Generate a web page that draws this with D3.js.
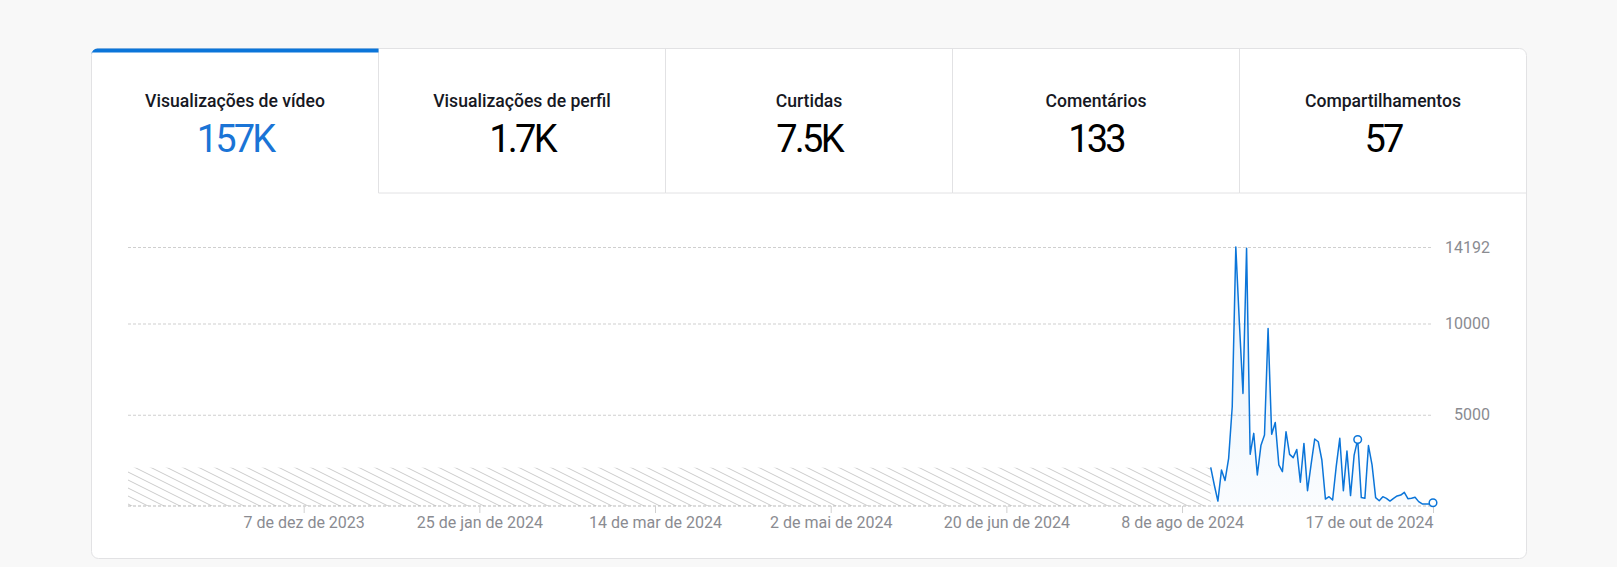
<!DOCTYPE html>
<html>
<head>
<meta charset="utf-8">
<style>
    body {
        margin: 0;
        background: #f8f8f8;
        font-family: Roboto, 'Noto Sans', Arial, sans-serif;
    }

    svg {
        display: block;
    }

    .tab-title {
        font-size: 17.6px;
        font-weight: 500;
        fill: #161823;
    }

    .tab-value {
        font-size: 38px;
        font-weight: 400;
        letter-spacing: -2.8px;
        fill: #000;
    }

    .tab-value.active {
        fill: #1a74d6;
    }

    .axis text {
        font-size: 16px;
        fill: #8a8b91;
        font-family: Roboto, Arial, sans-serif;
    }

    .y .tick line {
        stroke: #cfcfcf;
        stroke-dasharray: 3 2;
    }

    .x .tick line {
        stroke: #d0d0d0;
    }

    .domain {
        display: none;
    }
</style>
</head>
<body>
<svg width="1617" height="567"></svg>

<script src="https://cdnjs.cloudflare.com/ajax/libs/d3/7.8.5/d3.min.js"></script>
<script>
    // tabs across the top of the card
    let tabTitles = ["Visualizações de vídeo", "Visualizações de perfil", "Curtidas", "Comentários", "Compartilhamentos"]
    let tabValues = ["157K", "1.7K", "7.5K", "133", "57"]

    // daily video views, one per day starting at dataStart
    let dataStart = "2024-08-16"
    let views = [
        2120, 1150, 270, 1970, 1400, 2610, 5440, 14192, 10000, 6170,
        14120, 2830, 3980, 1700, 3310, 3890, 9730, 3930, 4580, 2250,
        1880, 4070, 2830, 2650, 3100, 1300, 3430, 840, 2280, 3670,
        3520, 2520, 380, 510, 330, 2160, 3710, 840, 3010, 570,
        2790, 3640, 460, 420, 3310, 2250, 460, 290, 510, 420,
        270, 420, 550, 600, 750, 400, 420, 475, 240, 110,
        110, 110, 180
    ]
    let markedDays = [41, 62]

    // axis range and ticks
    let rangeStart = "2023-10-19"
    let rangeEnd = "2024-10-17"
    let hatchValue = 2100
    let yMax = 14192
    let yTicks = [5000, 10000, 14192]
    let xTickDates = ["2023-12-07", "2024-01-25", "2024-03-14", "2024-05-02", "2024-06-20", "2024-08-08", "2024-10-17"]
    let xTickLabels = ["7 de dez de 2023", "25 de jan de 2024", "14 de mar de 2024", "2 de mai de 2024", "20 de jun de 2024", "8 de ago de 2024", "17 de out de 2024"]

    let parse = d3.utcParse("%Y-%m-%d")
    let first = parse(dataStart)
    let data = views.map((v, i) => ({date: d3.utcDay.offset(first, i), value: v}))

    let svg = d3.select("svg")

    // card
    let card = {x: 91.5, y: 48.5, w: 1435, h: 510}
    let tabH = 144.5
    let tabW = card.w / tabTitles.length

    svg.append("rect")
        .attr("x", card.x)
        .attr("y", card.y)
        .attr("width", card.w)
        .attr("height", card.h)
        .attr("rx", 7)
        .attr("fill", "#fff")
        .attr("stroke", "#e2e2e4")

    let tabs = svg.append("g")
        .selectAll("g")
        .data(tabTitles)
        .join("g")
        .attr("transform", (d, i) => `translate(${card.x + i * tabW}, ${card.y})`)

    tabs.filter((d, i) => i > 0)
        .append("path")
        .attr("d", `M0,0V${tabH}H${tabW}`)
        .attr("fill", "none")
        .attr("stroke", "#e2e2e4")

    // blue bar on the active tab
    svg.append("path")
        .attr("d", `M${card.x},${card.y + 4}V${card.y + 6}A6,6 0 0 1 ${card.x + 6},${card.y}H${card.x + tabW}V${card.y + 4}Z`)
        .attr("fill", "#0b75d9")

    tabs.append("text")
        .attr("class", "tab-title")
        .attr("x", tabW / 2)
        .attr("y", 58)
        .attr("text-anchor", "middle")
        .text(d => d)

    tabs.append("text")
        .attr("class", (d, i) => i == 0 ? "tab-value active" : "tab-value")
        .attr("x", tabW / 2)
        .attr("y", 103)
        .attr("text-anchor", "middle")
        .text((d, i) => tabValues[i])

    // chart
    let x = d3.scaleUtc()
        .domain([parse(rangeStart), parse(rangeEnd)])
        .range([128, 1433])

    let y = d3.scaleLinear()
        .domain([0, yMax])
        .range([506, 247])

    let defs = svg.append("defs")

    let hatch = defs.append("pattern")
        .attr("id", "hatch")
        .attr("patternUnits", "userSpaceOnUse")
        .attr("width", 16)
        .attr("height", 8)
    hatch.append("path")
        .attr("d", "M-8,-4L24,12M-8,4L8,12M8,-4L24,4")
        .attr("stroke", "#cbcbcb")
        .attr("stroke-width", 1)

    let grad = defs.append("linearGradient")
        .attr("id", "fade")
        .attr("x1", 0).attr("y1", 0)
        .attr("x2", 0).attr("y2", 1)
    grad.append("stop").attr("offset", "0%").attr("stop-color", "#0b75d9").attr("stop-opacity", 0.1)
    grad.append("stop").attr("offset", "100%").attr("stop-color", "#0b75d9").attr("stop-opacity", 0.02)

    let yAxis = d3.axisRight(y)
        .tickValues(yTicks)
        .tickSize(x.range()[1] - x.range()[0])
        .tickPadding(0)
        .tickFormat(d3.format("d"))

    svg.append("g")
        .attr("class", "y axis")
        .attr("transform", `translate(${x.range()[0]}, 0)`)
        .call(yAxis)
        .call(g => g.selectAll("text")
            .attr("x", 1490 - x.range()[0])
            .attr("text-anchor", "end"))

    // hatched block where no data exists
    svg.append("rect")
        .attr("x", x.range()[0])
        .attr("y", y(hatchValue))
        .attr("width", x(first) - x.range()[0])
        .attr("height", y(0) - y(hatchValue))
        .attr("fill", "url(#hatch)")

    // baseline
    svg.append("line")
        .attr("x1", x.range()[0])
        .attr("x2", x.range()[1])
        .attr("y1", y(0))
        .attr("y2", y(0))
        .attr("stroke", "#b9b9b9")
        .attr("stroke-dasharray", "3 2")

    let xAxis = d3.axisBottom(x)
        .tickValues(xTickDates.map(parse))
        .tickSize(7)
        .tickPadding(4)
        .tickFormat((d, i) => xTickLabels[i])

    svg.append("g")
        .attr("class", "x axis")
        .attr("transform", `translate(0, ${y(0)})`)
        .call(xAxis)
        .call(g => g.selectAll(".tick:last-of-type text").attr("text-anchor", "end"))

    let area = d3.area()
        .x(d => x(d.date))
        .y0(y(0))
        .y1(d => y(d.value))

    let line = d3.line()
        .x(d => x(d.date))
        .y(d => y(d.value))

    svg.append("path")
        .datum(data)
        .attr("fill", "url(#fade)")
        .attr("d", area)

    svg.append("path")
        .datum(data)
        .attr("fill", "none")
        .attr("stroke", "#0b75d9")
        .attr("stroke-width", 1.5)
        .attr("stroke-linejoin", "round")
        .attr("d", line)

    svg.append("g")
        .selectAll("circle")
        .data(markedDays.map(i => data[i]))
        .join("circle")
        .attr("cx", d => x(d.date))
        .attr("cy", d => y(d.value))
        .attr("r", 3.8)
        .attr("fill", "#fff")
        .attr("stroke", "#0b75d9")
        .attr("stroke-width", 1.5)
</script>
</body>
</html>
